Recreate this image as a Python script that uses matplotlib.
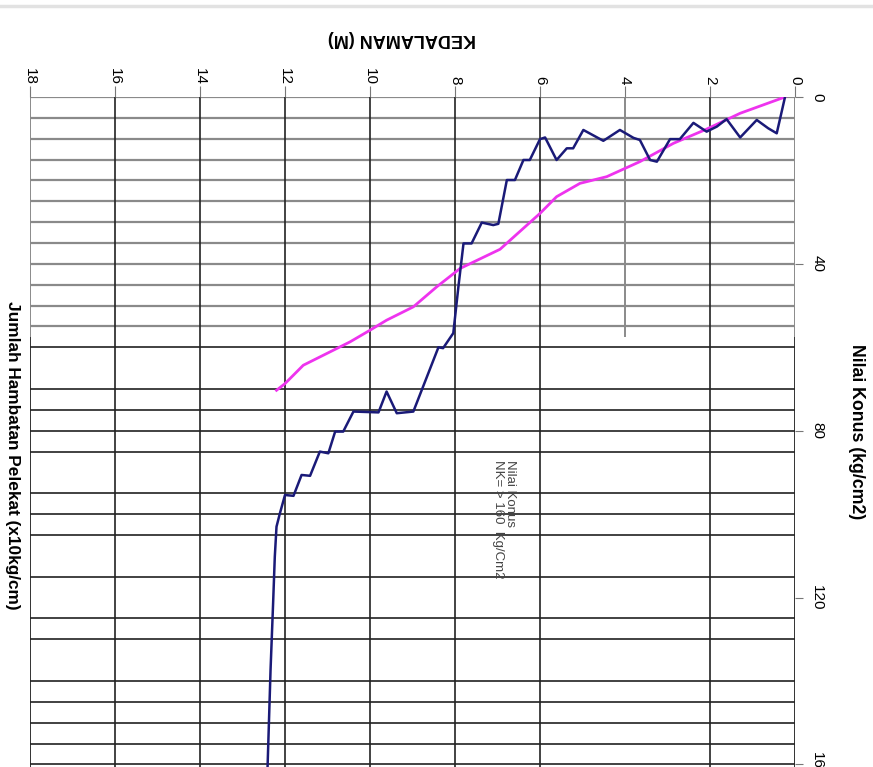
import matplotlib
matplotlib.use('Agg')
import matplotlib.pyplot as plt
from matplotlib.lines import Line2D

plt.rcParams['font.family'] = ['Liberation Sans', 'DejaVu Sans']

# Nilai Konus (kg/cm2) vs kedalaman (m)
konus_depth = [0.235, 0.34, 0.43, 0.63, 0.90, 1.29, 1.61, 1.84, 2.08, 2.39, 2.71, 2.94,
               3.25, 3.41, 3.65, 3.80, 4.12, 4.51, 4.98, 5.22, 5.37, 5.61, 5.88, 6.00,
               6.24, 6.39, 6.59, 6.78, 6.98, 7.10, 7.37, 7.61, 7.80, 7.92, 8.04, 8.28,
               8.39, 8.98, 9.37, 9.61, 9.80, 10.39, 10.63, 10.82, 10.98, 11.18, 11.41,
               11.61, 11.80, 12.00, 12.12, 12.20, 12.24, 12.28, 12.34, 12.41]
konus_val = [0, 4.7, 8.7, 7.5, 5.5, 9.7, 5.3, 7.1, 8.3, 6.2, 10.1, 10.1,
             15.5, 15.1, 10.3, 9.8, 7.9, 10.5, 7.9, 12.3, 12.3, 15.1, 9.7, 10.1,
             15.1, 15.1, 19.9, 19.9, 30.4, 30.7, 30.1, 35.1, 35.1, 45.5, 56.6, 60.2,
             60.0, 75.4, 75.8, 70.6, 75.6, 75.4, 80.2, 80.2, 85.4, 85.0, 90.8,
             90.6, 95.6, 95.4, 99.8, 103, 110.2, 121.4, 137.3, 160.5]

# Jumlah Hambatan Pelekat (x10kg/cm)
jhp_depth = [0.235, 1.29, 2.08, 2.86, 3.65, 4.43, 5.06, 5.61, 6.00, 6.94, 7.88, 8.43,
             8.98, 9.61, 10.0, 10.47, 11.57, 12.0, 12.20]
jhp_val = [0, 3.9, 7.7, 11.1, 15.5, 19.1, 20.7, 23.9, 27.9, 36.5, 41.1, 45.5,
           50.3, 53.5, 55.9, 58.7, 64.3, 68.7, 70.3]

depth_ticks = [0, 2, 4, 6, 8, 10, 12, 14, 16, 18]
konus_ticks = [0, 40, 80, 120, 160]

# grid of the sondir form
upper_rows = [0, 5, 10, 15, 20, 25, 30, 35, 40, 45, 50, 55]
lower_rows = [60, 70, 75, 80, 85, 95, 100, 105, 115, 125, 130, 140, 145, 150, 155, 160]
full_cols = [2, 6, 8, 10, 12, 14, 16]
upper_cols = [0, 4, 18]
lower_cols = [0, 18]
split = 57.5

fig = plt.figure(figsize=(8.73, 7.67), dpi=100)
ax = fig.add_axes([30 / 873, 0, 765 / 873, 1 - 97 / 767])
ax.set_xlim(18, 0)
ax.set_ylim(160.6, 0)
for s in ax.spines.values():
    s.set_visible(False)

ax.hlines(upper_rows, 0, 18, color='#8a8a8a', lw=1.6, zorder=1)
ax.hlines(lower_rows, 0, 18, color='#333333', lw=1.3, zorder=1)
ax.vlines(full_cols, 0, 160.6, color='#222222', lw=1.2, zorder=1)
ax.vlines(upper_cols, 0, split, color='#8a8a8a', lw=1.4, zorder=1)
ax.vlines(lower_cols, split, 160.6, color='#222222', lw=1.3, zorder=1)

ax.plot(jhp_depth, jhp_val, color='#ee33ee', lw=2, zorder=3)
ax.plot(konus_depth, konus_val, color='#1a1a78', lw=1.8, zorder=4)

ax.set_xticks(depth_ticks)
ax.set_xticklabels([str(t) for t in depth_ticks])
ax.xaxis.set_ticks_position('top')
ax.tick_params(axis='x', top=True, bottom=False, labeltop=True, labelbottom=False,
               direction='out', length=8, color='#777777', labelrotation=-90,
               labelsize=11, pad=1)

ax.set_yticks(konus_ticks)
ax.set_yticklabels([str(t) for t in konus_ticks])
ax.yaxis.set_ticks_position('right')
ax.tick_params(axis='y', right=True, left=False, labelright=True, labelleft=False,
               direction='out', length=6, color='#777777', labelrotation=-90,
               labelsize=11, pad=5)
for lab in ax.get_yticklabels():
    lab.set_verticalalignment('center')

ax.text(6.85, 87, 'Nilai Konus\nNK= > 160  Kg/Cm2', rotation=-90, ha='center',
        va='top', fontsize=9.5, color='#444444', multialignment='left',
        linespacing=1.0, zorder=5)

fig.text(402 / 873, 1 - 38 / 767, 'KEDALAMAN (M)', rotation=180, ha='center',
         va='center', fontsize=13, fontweight='bold')
fig.text(856 / 873, 1 - 432 / 767, 'Nilai Konus (kg/cm2)', rotation=-90, ha='center',
         va='center', fontsize=12.8, fontweight='bold')
fig.text(12 / 873, 1 - 455 / 767, 'Jumlah Hambatan Pelekat (x10kg/cm)', rotation=-90,
         ha='center', va='center', fontsize=12.4, fontweight='bold')

fig.add_artist(Line2D([0, 1], [1 - 6 / 767, 1 - 6 / 767], color='#e2e2e2', lw=2.5))

plt.savefig('out.png', dpi=100)
